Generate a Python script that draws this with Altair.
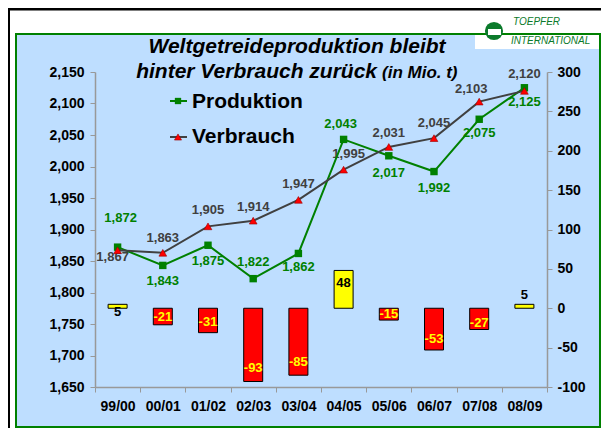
import altair as alt
import pandas as pd

# ---------------- data ----------------
seasons = ["99/00", "00/01", "01/02", "02/03", "03/04", "04/05", "05/06", "06/07", "07/08", "08/09"]
produktion = [1872, 1843, 1875, 1822, 1862, 2043, 2017, 1992, 2075, 2125]
verbrauch = [1867, 1863, 1905, 1914, 1947, 1995, 2031, 2045, 2103, 2120]
differenz = [5, -21, -31, -93, -85, 48, -15, -53, -27, 5]

left_ticks = list(range(1650, 2151, 50))
right_ticks = list(range(-100, 301, 50))

title_line1 = "Weltgetreideproduktion bleibt"
title_line2 = "hinter Verbrauch zurück"
title_unit = "(in Mio. t)"
legend_names = ["Produktion", "Verbrauch"]
logo_top = "TOEPFER"
logo_bottom = "INTERNATIONAL"

# ---------------- layout (label offsets in px) ----------------
prod_off = [(3, -29), (0, 16), (0, 16), (0, -17), (0, 14), (-3, -15), (0, 17), (0, 16), (0, 14), (0, 14)]
cons_off = [(-5, 7), (0, -15), (0, -16), (0, -14), (0, -16), (5, -16), (0, -14), (0, -15), (-8, -13), (0, -17)]
bar_off = [8, -8, -11, -13, -13, 13, -6, -11, -7, -9]

FONT = "Liberation Sans"
GREEN = "#008000"
GRAY_LINE = "#404040"
RED = "#FF0000"
YELLOW = "#FFFF00"
BG = "#BEDEFF"
AXIS_GRAY = "#999999"
LOGO_GREEN = "#0B7A2B"

df = pd.DataFrame({
    "Saison": seasons,
    "Produktion": produktion,
    "Verbrauch": verbrauch,
    "Differenz": differenz,
})
df["DiffLabel"] = [str(v) for v in differenz]
df["i"] = list(range(len(seasons)))

one = pd.DataFrame({"k": [0]})

axis_common = dict(
    labelFont=FONT, labelFontSize=14, labelFontWeight="bold", labelColor="black",
    domainColor=AXIS_GRAY, domainWidth=1.5, tickColor=AXIS_GRAY, tickSize=5,
    grid=False, title=None, zindex=1,
)

x_enc = alt.X(
    "Saison:N", sort=seasons,
    scale=alt.Scale(paddingInner=0, paddingOuter=0),
    axis=alt.Axis(orient="bottom", labelAngle=0, labelPadding=7, tickBand="extent", **axis_common),
)


def y_left(field):
    return alt.Y(
        field,
        scale=alt.Scale(domain=[1650, 2150], nice=False, zero=False),
        axis=alt.Axis(orient="left", values=left_ticks, labelExpr="format(datum.value, ',')",
                      labelPadding=6, **axis_common),
    )


def y_right(field):
    return alt.Y(
        field,
        scale=alt.Scale(domain=[-100, 300], nice=False),
        axis=alt.Axis(orient="right", values=right_ticks, labelExpr="'' + datum.value",
                      labelPadding=5, **axis_common),
    )


# ---------------- decoration (frame, panel, logo) ----------------
panel_fill = alt.Chart(one).mark_rect(fill=BG, strokeWidth=0).encode(
    x=alt.value(-79), x2=alt.value(505), y=alt.value(-38), y2=alt.value(355))
logo_box = alt.Chart(one).mark_rect(fill="white", strokeWidth=0).encode(
    x=alt.value(380), x2=alt.value(506), y=alt.value(-61), y2=alt.value(-23))
panel_stroke = alt.Chart(one).mark_rect(fillOpacity=0, stroke=GREEN, strokeWidth=2).encode(
    x=alt.value(-79), x2=alt.value(505), y=alt.value(-38), y2=alt.value(355))
frame_top = alt.Chart(one).mark_rule(color="black", strokeWidth=3).encode(
    x=alt.value(-87), x2=alt.value(506), y=alt.value(-63))
frame_left = alt.Chart(one).mark_rule(color="black", strokeWidth=2).encode(
    x=alt.value(-86), y=alt.value(-64), y2=alt.value(356))
logo_circle = alt.Chart(one).mark_point(shape="circle", filled=True, fill=LOGO_GREEN, opacity=1, size=330).encode(
    x=alt.value(399), y=alt.value(-41))
logo_ship = alt.Chart(one).mark_rect(fill="white", strokeWidth=0).encode(
    x=alt.value(393), x2=alt.value(406), y=alt.value(-43), y2=alt.value(-37))
logo_t1 = alt.Chart(one).mark_text(
    text=logo_top, font=FONT, fontSize=10, fontStyle="italic", color=LOGO_GREEN, align="left"
).encode(x=alt.value(418), y=alt.value(-50))
logo_t2 = alt.Chart(one).mark_text(
    text=logo_bottom, font=FONT, fontSize=10, fontStyle="italic", color=LOGO_GREEN, align="left"
).encode(x=alt.value(416), y=alt.value(-31))

title1 = alt.Chart(one).mark_text(
    text=title_line1, font=FONT, fontSize=21, fontStyle="italic", fontWeight="bold",
    color="black", align="center", baseline="alphabetic"
).encode(x=alt.value(202), y=alt.value(-19))
title2 = alt.Chart(one).mark_text(
    text=title_line2, font=FONT, fontSize=21, fontStyle="italic", fontWeight="bold",
    color="black", align="right", baseline="alphabetic"
).encode(x=alt.value(282), y=alt.value(6))
title3 = alt.Chart(one).mark_text(
    text=title_unit, font=FONT, fontSize=17, fontStyle="italic", fontWeight="bold",
    color="black", align="left", baseline="alphabetic"
).encode(x=alt.value(287), y=alt.value(6))

# legend (manual)
leg_line_p = alt.Chart(one).mark_rule(color=GREEN, strokeWidth=2).encode(
    x=alt.value(75), x2=alt.value(92), y=alt.value(29))
leg_pt_p = alt.Chart(one).mark_point(shape="square", filled=True, fill=GREEN, opacity=1, size=40).encode(
    x=alt.value(83), y=alt.value(29))
leg_txt_p = alt.Chart(one).mark_text(
    text=legend_names[0], font=FONT, fontSize=21, fontWeight="bold", color="black",
    align="left", baseline="alphabetic").encode(x=alt.value(97), y=alt.value(36))
leg_line_v = alt.Chart(one).mark_rule(color=GRAY_LINE, strokeWidth=2).encode(
    x=alt.value(75), x2=alt.value(92), y=alt.value(65))
leg_pt_v = alt.Chart(one).mark_point(shape="triangle-up", filled=True, fill=RED, stroke="#990000",
                                     strokeWidth=0.6, opacity=1, size=50).encode(
    x=alt.value(83), y=alt.value(65))
leg_txt_v = alt.Chart(one).mark_text(
    text=legend_names[1], font=FONT, fontSize=21, fontWeight="bold", color="black",
    align="left", baseline="alphabetic").encode(x=alt.value(97), y=alt.value(71))

# ---------------- bars (right axis) ----------------
bars = alt.Chart(df).mark_bar(size=19, stroke="black", strokeWidth=1).encode(
    x=x_enc,
    y=y_right("Differenz:Q"),
    color=alt.condition("datum.Differenz > 0", alt.value(YELLOW), alt.value(RED)),
)

bar_label_layers = []
groups = {}
for i, (dy, v) in enumerate(zip(bar_off, differenz)):
    groups.setdefault((dy, v > 0), []).append(i)
for (dy, pos), idx in groups.items():
    bar_label_layers.append(
        alt.Chart(df).transform_filter(alt.FieldOneOfPredicate(field="i", oneOf=idx))
        .mark_text(font=FONT, fontSize=13, fontWeight="bold", dy=dy,
                   color="black" if pos else YELLOW, baseline="middle")
        .encode(x=x_enc, y=y_right("Differenz:Q"), text="DiffLabel:N")
    )

right_group = alt.layer(
    panel_fill, logo_box, panel_stroke, frame_top, frame_left,
    bars, *bar_label_layers,
)

# ---------------- lines (left axis) ----------------
def label_layers(field, offsets, color):
    layers = []
    g = {}
    for i, off in enumerate(offsets):
        g.setdefault(off, []).append(i)
    for (dx, dy), idx in g.items():
        layers.append(
            alt.Chart(df).transform_filter(alt.FieldOneOfPredicate(field="i", oneOf=idx))
            .mark_text(font=FONT, fontSize=13, fontWeight="bold", color=color, dx=dx, dy=dy,
                       baseline="middle")
            .encode(x=x_enc, y=y_left(f"{field}:Q"), text=alt.Text(f"{field}:Q", format=","))
        )
    return layers


prod_labels = label_layers("Produktion", prod_off, GREEN)
cons_labels = label_layers("Verbrauch", cons_off, GRAY_LINE)

prod_line = alt.Chart(df).mark_line(color=GREEN, strokeWidth=2).encode(x=x_enc, y=y_left("Produktion:Q"))
cons_line = alt.Chart(df).mark_line(color=GRAY_LINE, strokeWidth=2).encode(x=x_enc, y=y_left("Verbrauch:Q"))
prod_pts = alt.Chart(df).mark_point(shape="square", filled=True, fill=GREEN, opacity=1, size=55).encode(
    x=x_enc, y=y_left("Produktion:Q"))
cons_pts = alt.Chart(df).mark_point(shape="triangle-up", filled=True, fill=RED, stroke="#990000",
                                    strokeWidth=0.6, opacity=1, size=60).encode(
    x=x_enc, y=y_left("Verbrauch:Q"))

left_group = alt.layer(
    *prod_labels, *cons_labels,
    prod_line, prod_pts, cons_line, cons_pts,
    logo_circle, logo_ship, logo_t1, logo_t2,
    title1, title2, title3,
    leg_line_p, leg_pt_p, leg_txt_p, leg_line_v, leg_pt_v, leg_txt_v,
)

chart = alt.layer(right_group, left_group).resolve_scale(y="independent").properties(
    width=452, height=315,
    autosize=alt.AutoSizeParams(type="none"),
    padding={"left": 87, "top": 64, "right": 54, "bottom": 41},
    background="white",
).configure_view(strokeWidth=0)

chart.save("out.html", embed_options={"renderer": "svg", "actions": False})
